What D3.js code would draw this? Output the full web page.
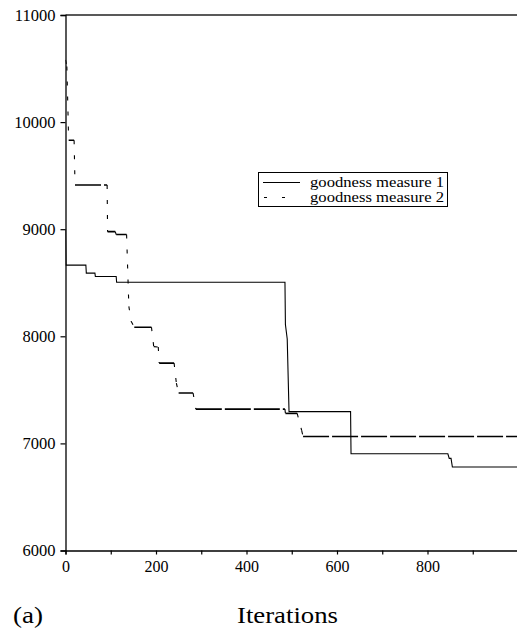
<!DOCTYPE html>
<html>
<head>
<meta charset="utf-8">
<script src="https://cdn.jsdelivr.net/npm/d3@7"></script>
<style>
  html, body { margin: 0; padding: 0; background: #fff; }
  svg text { font-family: "Liberation Serif", "Times New Roman", serif; fill: #000; }
</style>
</head>
<body>
<svg id="chart" width="517" height="630"></svg>
<script>
// Best-so-far score per iteration for the two goodness measures
const measure1 = [
  [0, 9000], [1, 8665], [45, 8665], [46, 8590], [65, 8590], [66, 8558],
  [112, 8558], [113, 8505], [485, 8505], [486, 8110], [490, 7975],
  [494, 7297], [630, 7297], [631, 6903], [845, 6903], [848, 6860],
  [852, 6860], [855, 6780], [1000, 6780]
];
const measure2 = [
  [0, 10580], [3, 10520], [7, 9830], [19, 9830], [21, 9413], [92, 9413],
  [93, 8977], [110, 8977], [112, 8950], [135, 8950], [140, 8280],
  [145, 8140], [152, 8085], [190, 8085], [195, 7904], [205, 7900],
  [207, 7750], [240, 7750], [245, 7562], [250, 7470], [282, 7470],
  [288, 7320], [485, 7320], [486, 7280], [512, 7280], [522, 7120],
  [525, 7064], [1000, 7064]
];
const seriesNames = ["goodness measure 1", "goodness measure 2"];
const yTicks = [6000, 7000, 8000, 9000, 10000, 11000];
const xTickMarks = [0, 100, 200, 300, 400, 500, 600, 700, 800, 900];
const xTickLabels = [0, 200, 400, 600, 800];
const xTitle = "Iterations";
const panelLabel = "(a)";

const serif = "'Liberation Serif', 'Times New Roman', serif";
const svg = d3.select("#chart");
const plotLeft = 65.5, plotRight = 518, plotTop = 15, plotBottom = 550.5;

const x = d3.scaleLinear().domain([0, 1000]).range([plotLeft, plotRight]);
const y = d3.scaleLinear().domain([6000, 11000]).range([plotBottom, plotTop]);

// Frame: top border line
svg.append("line")
  .attr("x1", plotLeft).attr("x2", 517).attr("y1", plotTop).attr("y2", plotTop)
  .attr("stroke", "#222").attr("stroke-width", 1.4);

// Left axis
const yAxis = d3.axisLeft(y).tickValues(yTicks).tickSize(5).tickPadding(5)
  .tickFormat(d3.format("d"));
const gy = svg.append("g").attr("transform", `translate(${plotLeft},0)`).call(yAxis)
  .attr("font-family", serif);
gy.select(".domain").attr("stroke", "#000").attr("stroke-width", 1.3);
gy.selectAll(".tick line").attr("stroke", "#000").attr("stroke-width", 1.2);
gy.selectAll(".tick text").attr("font-size", 16.5).attr("fill", "#000");

// Bottom axis: marks every 100, labels every 200
const xAxis = d3.axisBottom(x).tickValues(xTickMarks).tickSize(4).tickPadding(6)
  .tickFormat(d => xTickLabels.includes(d) ? d3.format("d")(d) : "");
const gx = svg.append("g").attr("transform", `translate(0,${plotBottom})`).call(xAxis)
  .attr("font-family", serif);
gx.select(".domain").attr("stroke", "#000").attr("stroke-width", 1.3);
gx.selectAll(".tick line").attr("stroke", "#000").attr("stroke-width", 1.2);
gx.selectAll(".tick text").attr("font-size", 16).attr("fill", "#000");

svg.append("clipPath").attr("id", "plot-clip")
  .append("rect").attr("x", plotLeft).attr("y", plotTop - 2)
  .attr("width", 517 - plotLeft).attr("height", plotBottom - plotTop + 2);

const plot = svg.append("g").attr("clip-path", "url(#plot-clip)");

// Measure 1: solid line
const line = d3.line().x(d => x(d[0])).y(d => y(d[1]));
plot.append("path")
  .datum(measure1)
  .attr("d", line)
  .attr("fill", "none")
  .attr("stroke", "#000")
  .attr("stroke-width", 1.1);

// Measure 2: dashed; level runs use long dashes, drops use short dashes
const pairs = d3.pairs(measure2);
plot.selectAll(".m2seg")
  .data(pairs)
  .join("line")
  .attr("class", "m2seg")
  .attr("x1", d => x(d[0][0])).attr("y1", d => y(d[0][1]))
  .attr("x2", d => x(d[1][0])).attr("y2", d => y(d[1][1]))
  .attr("stroke", "#000")
  .attr("stroke-width", d => d[0][1] === d[1][1] ? 1.6 : 1.1)
  .attr("stroke-dasharray", d => d[0][1] === d[1][1] ? "26,3" : "4,11");

// Legend
const lg = svg.append("g");
lg.append("rect")
  .attr("x", 258.5).attr("y", 172.5).attr("width", 189).attr("height", 34)
  .attr("fill", "#fff").attr("stroke", "#000").attr("stroke-width", 1);
lg.append("line")
  .attr("x1", 263).attr("x2", 300).attr("y1", 182.5).attr("y2", 182.5)
  .attr("stroke", "#000").attr("stroke-width", 1.1);
lg.append("line")
  .attr("x1", 264).attr("x2", 300).attr("y1", 197.5).attr("y2", 197.5)
  .attr("stroke", "#000").attr("stroke-width", 1.1)
  .attr("stroke-dasharray", "3,15");
lg.selectAll(".lgtext")
  .data(seriesNames)
  .join("text")
  .attr("class", "lgtext")
  .attr("x", 310)
  .attr("y", (d, i) => 186.5 + i * 15)
  .attr("font-size", 15)
  .attr("textLength", 134)
  .attr("lengthAdjust", "spacingAndGlyphs")
  .text(d => d);

// Axis title and panel label
svg.append("text")
  .attr("x", 237).attr("y", 623)
  .attr("font-size", 24)
  .attr("textLength", 101)
  .attr("lengthAdjust", "spacingAndGlyphs")
  .text(xTitle);
svg.append("text")
  .attr("x", 13).attr("y", 623)
  .attr("font-size", 24)
  .attr("textLength", 30)
  .attr("lengthAdjust", "spacingAndGlyphs")
  .text(panelLabel);
</script>
</body>
</html>
